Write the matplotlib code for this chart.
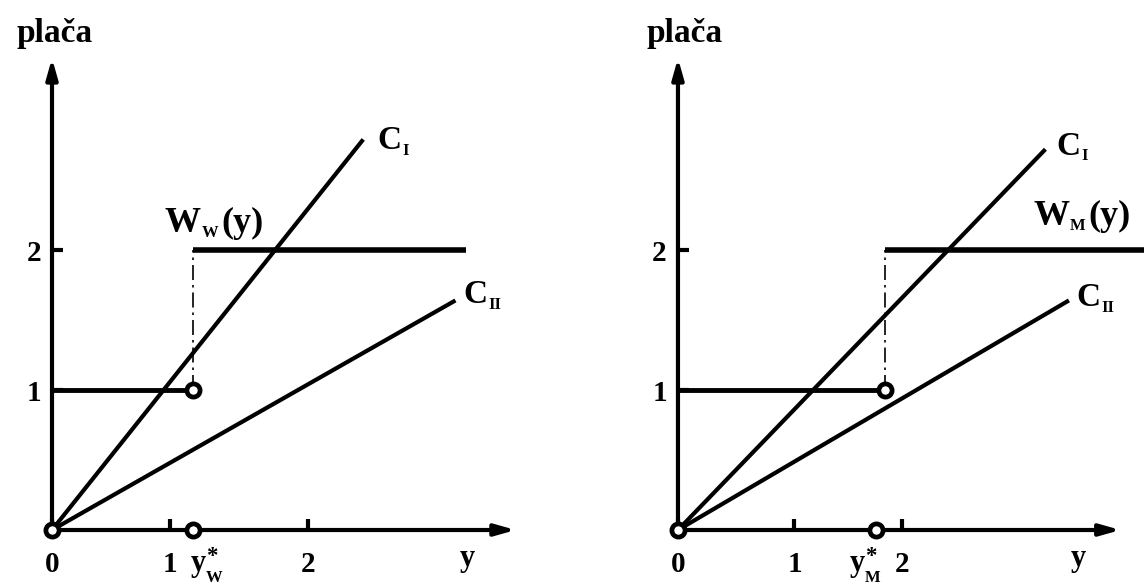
import matplotlib
matplotlib.use("Agg")
import matplotlib.pyplot as plt

SERIF = "Liberation Serif"

# ---- data: left panel (W) ----
L_xticks = [0.0, 0.92, 2.0]
L_xticklabels = ["0", "1", "2"]
L_ystar = 1.10            # y*_W
L_wage_low = 1.0
L_wage_high = 2.0
L_wage_end = 3.23
L_CI_end = (2.43, 2.79)
L_CII_end = (3.15, 1.64)
L_xaxis_end = 3.62

# ---- data: right panel (M) ----
R_xticks = [0.0, 1.04, 2.0]
R_xticklabels = ["0", "1", "2"]
R_ystar_axis = 1.77       # y*_M marker on the y axis
R_ystar = 1.85            # jump of W_M
R_wage_low = 1.0
R_wage_high = 2.0
R_wage_end = 4.2
R_CI_end = (3.28, 2.72)
R_CII_end = (3.49, 1.64)
R_xaxis_end = 3.95

yticks = [1.0, 2.0]
yticklabels = ["1", "2"]
yaxis_end = 3.37

fig = plt.figure(figsize=(11.44, 5.86), dpi=100)
axL = fig.add_axes([0, 0, 0.5, 1])
axR = fig.add_axes([0.5, 0, 0.5, 1])
axL.set_xlim(-0.406, 4.06)
axR.set_xlim(-0.946, 4.16)
for ax in (axL, axR):
    ax.set_ylim(-0.4, 3.786)

BLACK = "black"


def text_with_sub(ax, x, y, main, sub=None, sup=None, rest=None,
                  size=24, subsize=12, sub_dy=-4, sup_dy=10):
    t = ax.text(x, y, main, fontsize=size, fontweight="bold", family=SERIF,
                ha="left", va="baseline", color=BLACK)
    last = t
    if sub is not None:
        s = ax.annotate(sub, xy=(1, y), xycoords=(t, ax.transData),
                        xytext=(0.5, sub_dy), textcoords="offset points",
                        fontsize=subsize, fontweight="bold", family=SERIF,
                        ha="left", va="baseline")
        last = s
    if sup is not None:
        p = ax.annotate(sup, xy=(1, y), xycoords=(t, ax.transData),
                        xytext=(0.5, sup_dy), textcoords="offset points",
                        fontsize=size * 0.75, fontweight="bold", family=SERIF,
                        ha="left", va="baseline")
        if sub is None:
            last = p
    if rest is not None:
        ax.annotate(rest, xy=(1, y), xycoords=(last, ax.transData),
                    xytext=(2, 0), textcoords="offset points",
                    fontsize=size, fontweight="bold", family=SERIF,
                    ha="left", va="baseline")
    return t


def draw_panel(ax, xticks, xticklabels, x_end, ystar_axis, ystar,
               w_low, w_high, w_end, ci_end, cii_end):
    for s in ax.spines.values():
        s.set_visible(False)
    ax.spines["left"].set_position(("data", 0))
    ax.spines["bottom"].set_position(("data", 0))
    ax.set_xticks(xticks, xticklabels)
    ax.set_yticks(yticks, yticklabels)
    ax.tick_params(axis="both", direction="in", length=8, width=3,
                   labelsize=21, colors=BLACK)
    ax.tick_params(axis="x", pad=15)
    ax.tick_params(axis="y", pad=8)
    for lab in ax.get_xticklabels() + ax.get_yticklabels():
        lab.set_fontweight("bold")
        lab.set_family(SERIF)

    arrow = dict(arrowstyle="-|>,head_length=0.6,head_width=0.17",
                 lw=3, color=BLACK, shrinkA=0, shrinkB=0, mutation_scale=20)
    ax.annotate("", xy=(x_end, 0), xytext=(0, 0), arrowprops=arrow)
    ax.annotate("", xy=(0, yaxis_end), xytext=(0, 0), arrowprops=arrow)

    # cost lines
    ax.plot([0, ci_end[0]], [0, ci_end[1]], color=BLACK, lw=3,
            solid_capstyle="butt")
    ax.plot([0, cii_end[0]], [0, cii_end[1]], color=BLACK, lw=3,
            solid_capstyle="butt")

    # wage schedule
    ax.plot([0, ystar], [w_low, w_low], color=BLACK, lw=3.5,
            solid_capstyle="butt")
    ax.plot([ystar, w_end], [w_high, w_high], color=BLACK, lw=4,
            solid_capstyle="butt")
    ax.plot([ystar, ystar], [w_low, w_high], color=BLACK, lw=1.2,
            linestyle=(0, (9, 3, 1.5, 3)))

    circ = dict(marker="o", markersize=9.5, markerfacecolor="white",
                markeredgecolor=BLACK, markeredgewidth=3.4, linestyle="none",
                zorder=5)
    ax.plot([0], [0], **circ)
    ax.plot([ystar_axis], [0], **circ)
    ax.plot([ystar], [w_low], **circ)


draw_panel(axL, L_xticks, L_xticklabels, L_xaxis_end, L_ystar, L_ystar,
           L_wage_low, L_wage_high, L_wage_end, L_CI_end, L_CII_end)
draw_panel(axR, R_xticks, R_xticklabels, R_xaxis_end, R_ystar_axis, R_ystar,
           R_wage_low, R_wage_high, R_wage_end, R_CI_end, R_CII_end)

# labels, left
axL.text(0.02, 3.55, "plača", fontsize=24, fontweight="bold", family=SERIF,
         ha="center", va="center")
text_with_sub(axL, 2.54, 2.72, "C", sub="I")
text_with_sub(axL, 3.21, 1.62, "C", sub="II")
text_with_sub(axL, 0.88, 2.13, "W", sub="W", rest="(y)", size=26)
axL.text(3.24, -0.2, "y", fontsize=22, fontweight="bold", family=SERIF,
         ha="center", va="center")
text_with_sub(axL, 1.08, -0.29, "y", sub="W", sup="*", size=22, subsize=12,
              sub_dy=-8, sup_dy=6)

# labels, right
axR.text(0.06, 3.55, "plača", fontsize=24, fontweight="bold", family=SERIF,
         ha="center", va="center")
text_with_sub(axR, 3.38, 2.68, "C", sub="I")
text_with_sub(axR, 3.56, 1.60, "C", sub="II")
text_with_sub(axR, 3.17, 2.18, "W", sub="M", rest="(y)", size=26)
axR.text(3.57, -0.2, "y", fontsize=22, fontweight="bold", family=SERIF,
         ha="center", va="center")
text_with_sub(axR, 1.53, -0.29, "y", sub="M", sup="*", size=22, subsize=12,
              sub_dy=-8, sup_dy=6)

fig.savefig("out.png", dpi=100)
